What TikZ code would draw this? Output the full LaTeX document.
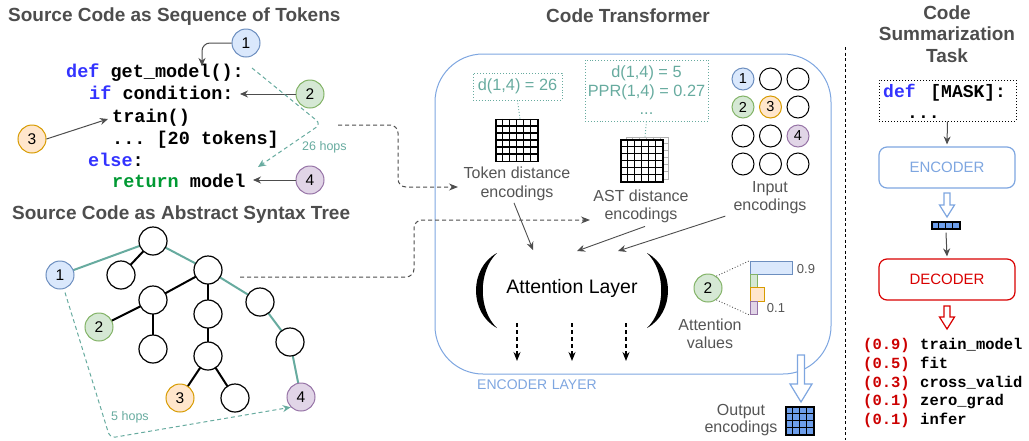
\documentclass[tikz,border=0pt]{standalone}
\usepackage{fontspec}
\setmainfont{Liberation Sans}
\setsansfont{Liberation Sans}
\setmonofont{Liberation Mono}
\usetikzlibrary{arrows.meta,calc}
\definecolor{titlegray}{HTML}{4D4D4D}
\definecolor{lblgray}{HTML}{555555}
\definecolor{tealc}{HTML}{67AB9F}
\definecolor{bfill}{HTML}{DAE8FC}\definecolor{bline}{HTML}{6C8EBF}
\definecolor{gfill}{HTML}{D5E8D4}\definecolor{gline}{HTML}{82B366}
\definecolor{ofill}{HTML}{FFE6CC}\definecolor{oline}{HTML}{D79B00}
\definecolor{pfill}{HTML}{E1D5E7}\definecolor{pline}{HTML}{9673A6}
\definecolor{encblue}{HTML}{7EA6E0}
\definecolor{gridblue}{HTML}{6D9EEB}
\definecolor{decred}{HTML}{D80000}
\definecolor{codeblue}{HTML}{3333FF}
\definecolor{codegreen}{HTML}{009933}
\definecolor{listred}{HTML}{CC0000}
\tikzset{
  titlestyle/.style={font=\bfseries\fontsize{19}{22}\selectfont, text=titlegray, inner sep=0},
  code/.style={font=\ttfamily\bfseries\fontsize{18.5}{22}\selectfont, inner sep=0, anchor=base west},
  circ/.style={circle, draw, line width=1pt, minimum size=28pt, inner sep=0, font=\fontsize{15.5}{15.5}\selectfont},
  smallcirc/.style={circle, draw, line width=1pt, minimum size=22pt, inner sep=0, font=\fontsize{14.5}{14.5}\selectfont},
  cblue/.style={fill=bfill, draw=bline},
  cgreen/.style={fill=gfill, draw=gline},
  corange/.style={fill=ofill, draw=oline},
  cpurple/.style={fill=pfill, draw=pline},
  tnode/.style={circle, draw=black, line width=1.2pt, minimum size=28pt, inner sep=0, fill=white},
  tedge/.style={line width=2pt, black},
  tealedge/.style={line width=2pt, tealc},
  arr/.style={draw=titlegray, line width=1pt, -{Stealth[length=8pt,width=7pt]}},
  tealdash/.style={draw=tealc, line width=1pt, dash pattern=on 4pt off 3pt, -{Stealth[length=8pt,width=7pt]}},
  graydash/.style={draw=titlegray, line width=1pt, dash pattern=on 4pt off 3pt, -{Stealth[length=9pt,width=7pt]}},
  lbl/.style={font=\fontsize{16}{18.5}\selectfont, text=lblgray, align=center, inner sep=0},
  tealbox/.style={draw=tealc, dotted, line width=0.9pt, text=tealc, font=\fontsize{16.3}{18.5}\selectfont, align=center, inner sep=0},
  gridbox/.style={draw=black, line width=1.3pt, minimum size=42pt, inner sep=0, fill=white},
  bar/.style={line width=1.2pt, inner sep=0, anchor=north west},
  hollowblue/.style={draw=encblue, line width=1.2pt, fill=white},
  hollowred/.style={draw=decred, line width=1.2pt, fill=white},
  listtxt/.style={font=\ttfamily\bfseries\fontsize{15.5}{18.5}\selectfont, inner sep=0, anchor=base west},
}
\begin{document}
\begin{tikzpicture}[x=1pt,y=-1pt]
\useasboundingbox (0,0) rectangle (1029,440);

% ---------------- titles
\node[titlestyle, anchor=west] (t1) at (8,17) {Source Code as Sequence of Tokens};
\node[titlestyle, anchor=west] (t2) at (12,215) {Source Code as Abstract Syntax Tree};
\node[titlestyle] (t3) at (628,16) {Code Transformer};
\node[titlestyle, align=center, font=\bfseries\fontsize{19}{21.5}\selectfont] (t4) at (947,34) {Code\\Summarization\\Task};

% ---------------- code
\node[code] (code1) at (66,77) {\textcolor{codeblue}{def} get\_model():};
\node[code] (code2) at (89,99) {\textcolor{codeblue}{if} condition:};
\node[code] (code3) at (112,122) {train()};
\node[code] (code4) at (112,144) {... [20 tokens]};
\node[code] (code5) at (88,166) {\textcolor{codeblue}{else}:};
\node[code] (code6) at (112,187) {\textcolor{codegreen}{return} model};

\node[circ, cblue] (c1) at (246,43) {1};
\node[circ, cgreen] (c2) at (310,94) {2};
\node[circ, corange] (c3) at (32,139) {3};
\node[circ, cpurple] (c4) at (310,180) {4};
\coordinate (p1) at (202,66);
\coordinate (p2) at (240,94);
\coordinate (p3) at (108,119);
\coordinate (p4) at (253,180);
\draw[arr, rounded corners=8pt] (c1.west) -| (p1);
\draw[arr] (c2.west) -- (p2);
\draw[arr] (c3.east) -- (p3);
\draw[arr] (c4.west) -- (p4);

\coordinate (h1) at (252,68);
\coordinate (h2) at (321,124);
\coordinate (h3) at (258,167);
\draw[tealdash, rounded corners=6pt] (h1) -- (h2) -- (h3);
\node[font=\fontsize{12.5}{14}\selectfont, text=tealc, anchor=west, inner sep=0] (hops26) at (302,147) {26 hops};

% ---------------- tree
\coordinate (A) at (153,241);
\coordinate (n1) at (60,275);
\coordinate (B) at (121,275);
\coordinate (C) at (208,270);
\coordinate (D) at (153,300);
\coordinate (n2) at (99,327);
\coordinate (E) at (153,349);
\coordinate (F) at (208,314);
\coordinate (G) at (208,356);
\coordinate (n3) at (180,398);
\coordinate (H) at (235,398);
\coordinate (I) at (260,302);
\coordinate (J) at (290,342);
\coordinate (n4) at (301,397);
\draw[tedge] (A) -- (B);
\draw[tedge] (C) -- (D);
\draw[tedge] (D) -- (n2);
\draw[tedge] (D) -- (E);
\draw[tedge] (C) -- (F);
\draw[tedge] (F) -- (G);
\draw[tedge] (G) -- (n3);
\draw[tedge] (G) -- (H);
\draw[tealedge] (n1) -- (A);
\draw[tealedge] (A) -- (C);
\draw[tealedge] (C) -- (I);
\draw[tealedge] (I) -- (J);
\draw[tealedge] (J) -- (n4);
\node[tnode] (tA) at (A) {};\node[tnode] (tB) at (B) {};\node[tnode] (tC) at (C) {};\node[tnode] (tD) at (D) {};
\node[tnode] (tE) at (E) {};\node[tnode] (tF) at (F) {};\node[tnode] (tG) at (G) {};\node[tnode] (tH) at (H) {};
\node[tnode] (tI) at (I) {};\node[tnode] (tJ) at (J) {};
\node[circ, cblue] (t1n) at (n1) {1};\node[circ, cgreen] (t2n) at (n2) {2};
\node[circ, corange] (t3n) at (n3) {3};\node[circ, cpurple] (t4n) at (n4) {4};

\coordinate (k1) at (110,438);
\draw[tealdash, rounded corners=5pt] ([xshift=5pt,yshift=-3pt]t1n.south) -- (k1) -- (t4n.south west);
\node[font=\fontsize{12.5}{14}\selectfont, text=tealc, anchor=west, inner sep=0] (hops5) at (111,417) {5 hops};

% ---------------- encoder layer
\node[draw=encblue, line width=1pt, rounded corners=48pt, minimum width=396pt, minimum height=320pt, inner sep=0] (enc) at (633,214) {};
\node[font=\fontsize{14}{15}\selectfont, text=encblue, inner sep=0] (enclbl) at (537,385) {ENCODER\,\,LAYER};

% token distance
\node[tealbox, minimum width=89pt, minimum height=27pt] (tokbox) at (517.5,86.5) {d(1,4) = 26};
\node[gridbox] (tokgrid) at (517,140.5) {};
\foreach \i in {1,...,5} {
  \draw[line width=1.3pt] ([xshift=\i*7pt]tokgrid.north west) -- ([xshift=\i*7pt]tokgrid.south west);
  \draw[line width=1.3pt] ([yshift=-\i*7pt]tokgrid.north west) -- ([yshift=-\i*7pt]tokgrid.north east);
}
\draw[tealc, dotted, line width=0.9pt] (tokbox.south) -- ([xshift=3pt]tokgrid.north);
\node[lbl] (toklbl) at (517,184) {Token distance\\encodings};

% AST distance
\node[tealbox, minimum width=123pt, minimum height=61pt] (astbox) at (646.5,90.5) {d(1,4) = 5\\PPR(1,4) = 0.27\\...};
\node[gridbox, draw=gray!60, line width=0.9pt] (astback) at (647,158) {};
\foreach \i in {1,...,5} {
  \draw[gray!60, line width=0.9pt] ([xshift=\i*7pt]astback.north west) -- ([xshift=\i*7pt]astback.south west);
  \draw[gray!60, line width=0.9pt] ([yshift=-\i*7pt]astback.north west) -- ([yshift=-\i*7pt]astback.north east);
}
\node[gridbox] (astgrid) at (642,161) {};
\foreach \i in {1,...,5} {
  \draw[line width=1.3pt] ([xshift=\i*7pt]astgrid.north west) -- ([xshift=\i*7pt]astgrid.south west);
  \draw[line width=1.3pt] ([yshift=-\i*7pt]astgrid.north west) -- ([yshift=-\i*7pt]astgrid.north east);
}
\draw[tealc, dotted, line width=0.9pt] (astbox.south) -- ([xshift=-2pt]astback.north);
\node[lbl] (astlbl) at (641,206.5) {AST distance\\encodings};

% input encodings
\node[smallcirc, cblue] (i11) at (743,79) {1};
\node[smallcirc] (i12) at (770.5,79) {};
\node[smallcirc] (i13) at (798,79) {};
\node[smallcirc, cgreen] (i21) at (743,107) {2};
\node[smallcirc, corange] (i22) at (770.5,107) {3};
\node[smallcirc] (i23) at (798,107) {};
\node[smallcirc] (i31) at (743,136) {};
\node[smallcirc] (i32) at (770.5,136) {};
\node[smallcirc, cpurple] (i33) at (798,136) {4};
\node[smallcirc] (i41) at (743,164) {};
\node[smallcirc] (i42) at (770.5,164) {};
\node[smallcirc] (i43) at (798,164) {};
\node[lbl] (inlbl) at (770,197.5) {Input\\encodings};

% attention layer
\node[font=\fontsize{19.5}{22}\selectfont, inner sep=0] (att) at (572,288) {Attention Layer};
\fill (497,253) .. controls (469,268) and (469,313) .. (497,328) .. controls (478,310) and (478,271) .. cycle;
\fill (647,253) .. controls (675,268) and (675,313) .. (647,328) .. controls (666,310) and (666,271) .. cycle;
\coordinate (q1) at (533,250);
\coordinate (q2) at (577,251);
\coordinate (q3) at (618,251);
\draw[arr, line width=0.9pt] ([xshift=-3pt,yshift=-2pt]toklbl.south) -- (q1);
\draw[arr, line width=0.9pt] ([xshift=4pt,yshift=-3pt]astlbl.south) -- (q2);
\draw[arr, line width=0.9pt] ([xshift=-8pt,yshift=-2pt]inlbl.south west) -- (q3);
\foreach \x [count=\k] in {517,572,626} {
  \coordinate (ds\k) at (\x,323);
  \coordinate (de\k) at (\x,361);
  \draw[black, line width=1.3pt, dash pattern=on 4pt off 3pt, -{Stealth[length=9pt,width=7pt]}] (ds\k) -- (de\k);
}

% attention values
\node[circ, cgreen] (att2) at (708,288) {2};
\node[bar, draw=bline, fill=bfill, minimum width=42pt, minimum height=13pt] (bar1) at (750,260.5) {};
\node[bar, draw=gline, fill=gfill, minimum width=7pt, minimum height=13pt] (bar2) at (750,273.5) {};
\node[bar, draw=oline, fill=ofill, minimum width=14pt, minimum height=14pt] (bar3) at (750,287) {};
\node[bar, draw=pline, fill=pfill, minimum width=7pt, minimum height=13pt] (bar4) at (750,301) {};
\node[font=\fontsize{13}{14}\selectfont, text=lblgray, inner sep=0] (v09) at (806,269.5) {0.9};
\node[font=\fontsize{13}{14}\selectfont, text=lblgray, inner sep=0] (v01) at (776,308) {0.1};
\draw[lblgray, dotted, line width=0.9pt] (att2.55) -- (bar1.north west);
\draw[lblgray, dotted, line width=0.9pt] (att2.-55) -- (bar4.south west);
\node[lbl] (attlbl) at (710,334) {Attention\\values};

% output encodings
\draw[hollowblue] (797.5,355) -- (804.5,355) -- (804.5,384) -- (812,384) -- (801,402) -- (790,384) -- (797.5,384) -- cycle;
\node[draw=black, line width=1.2pt, fill=gridblue, minimum size=28pt, inner sep=0] (outgrid) at (800,421) {};
\foreach \i in {1,2,3} {
  \draw[line width=1.2pt] ([xshift=\i*7pt]outgrid.north west) -- ([xshift=\i*7pt]outgrid.south west);
  \draw[line width=1.2pt] ([yshift=-\i*7pt]outgrid.north west) -- ([yshift=-\i*7pt]outgrid.north east);
}
\node[lbl, font=\fontsize{16}{17}\selectfont] (outlbl) at (741,420) {Output\\encodings};

% ---------------- gray dashed connectors
\coordinate (s1) at (338,125);
\coordinate (e1) at (458,187);
\draw[graydash, rounded corners=8pt] (s1) -- (398,125) -- (398,187) -- (e1);
\coordinate (s2) at (240,277);
\coordinate (e2) at (590,220);
\draw[graydash, rounded corners=8pt] (s2) -- (414,277) -- (414,220) -- (e2);

% ---------------- right panel
\draw[black, line width=1pt, dash pattern=on 3pt off 2.5pt] (845,47) -- (845,440);
\node[draw=black, dotted, line width=1pt, minimum width=137pt, minimum height=41pt, inner sep=0] (taskbox) at (947.5,100.5) {};
\node[code, font=\ttfamily\bfseries\fontsize{18}{22}\selectfont] (taskcode) at (883,97) {\textcolor{codeblue}{def}\hspace{4pt} [MASK]:};
\node[code, font=\ttfamily\bfseries\fontsize{18}{22}\selectfont] (taskdots) at (907,118) {...};
\node[draw=encblue, line width=1.2pt, rounded corners=8pt, minimum width=136pt, minimum height=41pt, text=encblue, font=\fontsize{15}{16}\selectfont] (encoder) at (947,167.5) {ENCODER};
\draw[arr] (taskbox.south) -- ([yshift=2pt]encoder.north);
\draw[hollowblue] (944,193) -- (950,193) -- (950,205) -- (954.5,205) -- (947,217) -- (939.5,205) -- (944,205) -- cycle;
\node[draw=black, line width=1.2pt, fill=gridblue, minimum width=28pt, minimum height=7pt, inner sep=0] (vec) at (946,225.5) {};
\foreach \i in {1,2,3} {
  \draw[line width=1.2pt] ([xshift=\i*7pt]vec.north west) -- ([xshift=\i*7pt]vec.south west);
}
\node[draw=decred, line width=1.2pt, rounded corners=8pt, minimum width=136pt, minimum height=41pt, text=decred, font=\fontsize{15}{16}\selectfont] (decoder) at (947,279.5) {DECODER};
\draw[arr] ([yshift=-3pt]vec.south) -- ([yshift=2pt]decoder.north);
\draw[hollowred] (944,306) -- (950,306) -- (950,317) -- (954.5,317) -- (947,329) -- (939.5,317) -- (944,317) -- cycle;
\foreach \p/\w [count=\k] in {0.9/train\_model, 0.5/fit, 0.3/cross\_valid, 0.1/zero\_grad, 0.1/infer} {
  \node[listtxt, text=listred] (lp\k) at (863,331+\k*18.7) {(\p)};
  \node[listtxt] (lw\k) at (920,331+\k*18.7) {\w};
}
\end{tikzpicture}
\end{document}
